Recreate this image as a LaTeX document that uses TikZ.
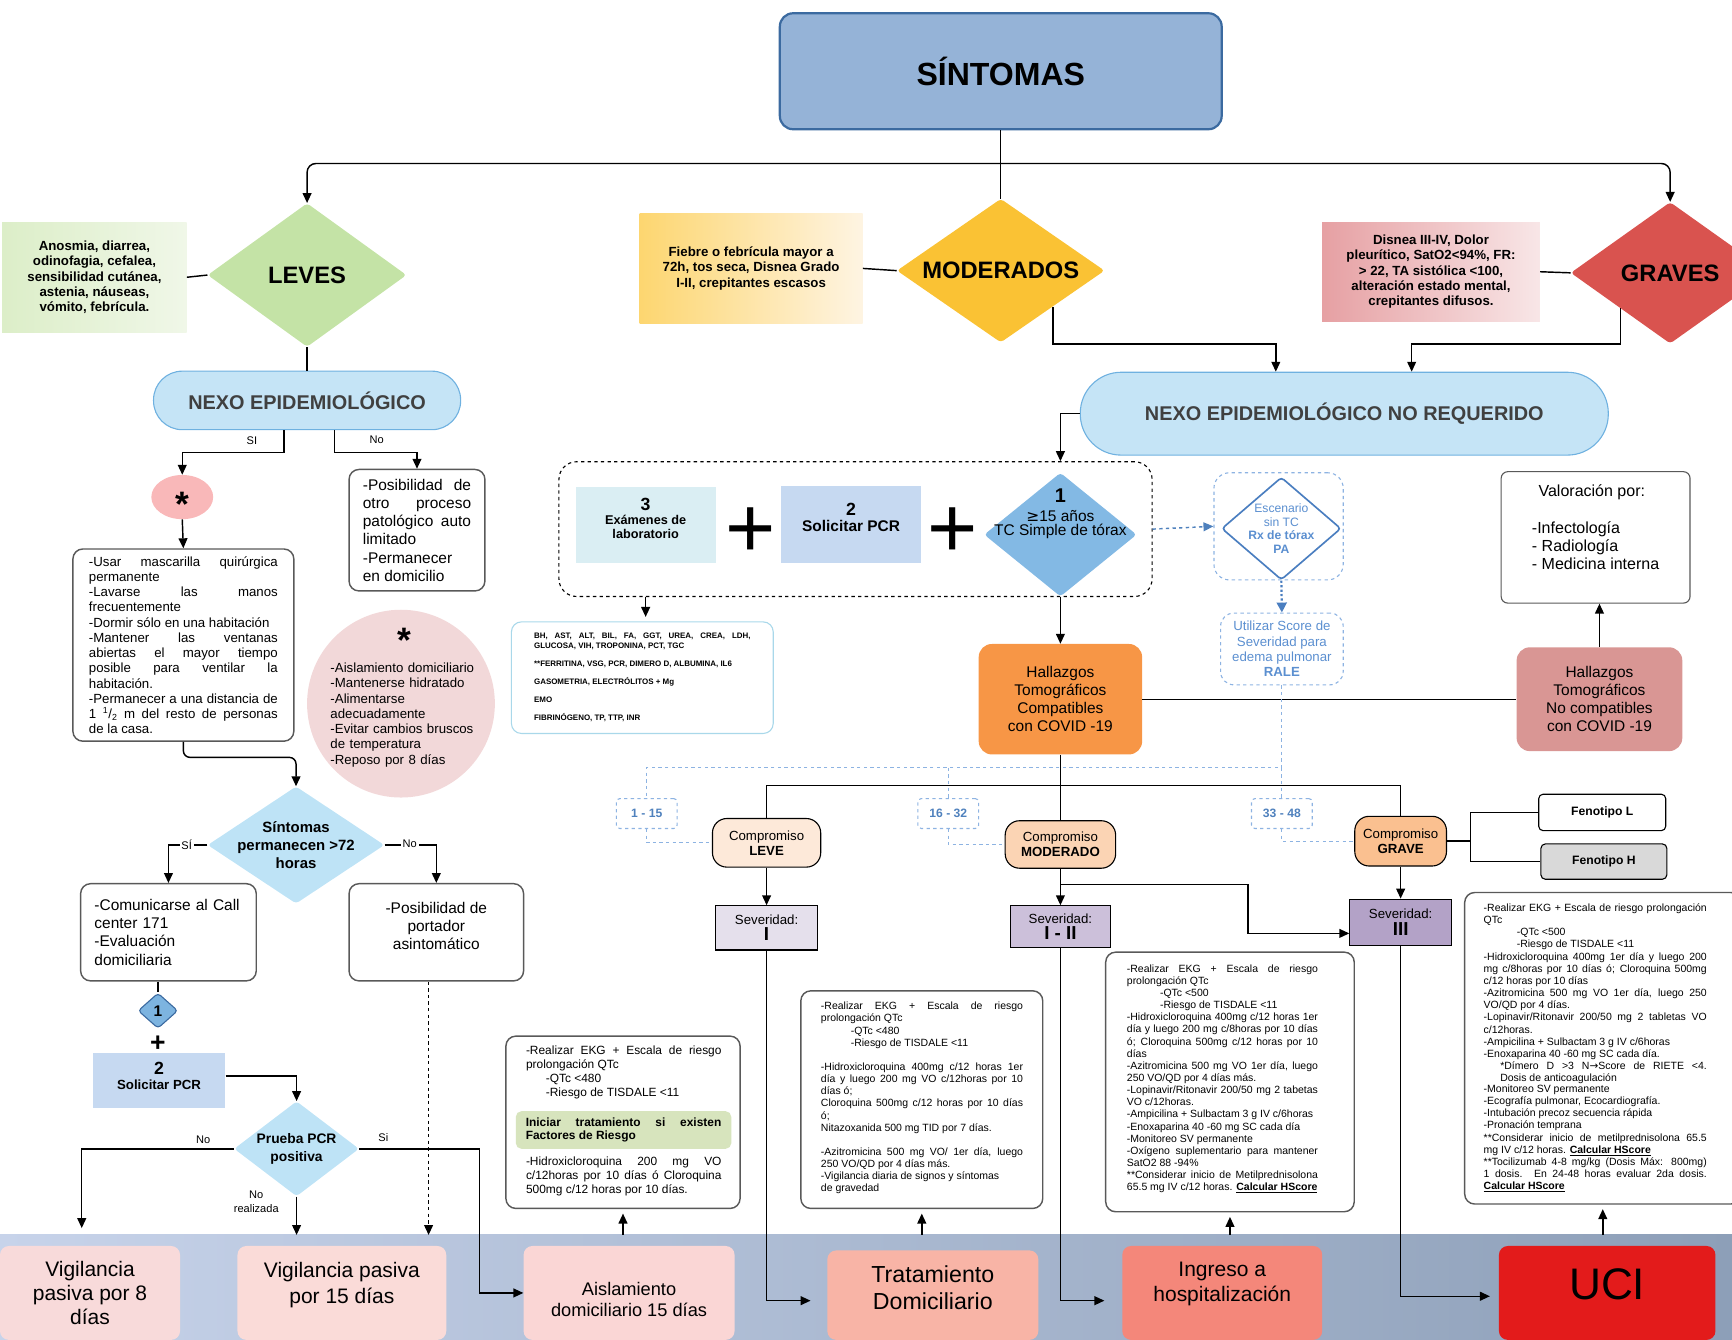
\documentclass[tikz,border=0pt]{standalone}
\usepackage{fontspec}
\setmainfont{Liberation Sans}[WordSpace={1,1,0}]
\newfontfamily\dejavu{DejaVu Sans}
\usetikzlibrary{shapes.geometric,arrows.meta,positioning}
\hyphenpenalty=10000
\exhyphenpenalty=10000
\tolerance=9999
\definecolor{sintfill}{HTML}{95B3D7}
\definecolor{sintline}{HTML}{3B6AA0}
\definecolor{levefill}{HTML}{C4E3A6}
\definecolor{modfill}{HTML}{FAC234}
\definecolor{gravfill}{HTML}{D9534F}
\definecolor{nexofill}{HTML}{C5E4F6}
\definecolor{nexoline}{HTML}{6FB1E0}
\definecolor{nexotext}{HTML}{404040}
\definecolor{astfill}{HTML}{F9B8B9}
\definecolor{circfill}{HTML}{F2D8D9}
\definecolor{permfill}{HTML}{BEE3F6}
\definecolor{diafill}{HTML}{7DB4E0}
\definecolor{dia1fill}{HTML}{83B9E4}
\definecolor{pcrfill}{HTML}{C6D9F1}
\definecolor{lab3fill}{HTML}{DAEEF3}
\definecolor{labline}{HTML}{A9D8EA}
\definecolor{hallcfill}{HTML}{F79646}
\definecolor{hallncfill}{HTML}{D99694}
\definecolor{clevefill}{HTML}{FDE9D9}
\definecolor{cmodfill}{HTML}{FBD4B4}
\definecolor{cgravfill}{HTML}{FAC090}
\definecolor{sevafill}{HTML}{E5E0EC}
\definecolor{sevbfill}{HTML}{CCC0DA}
\definecolor{sevcfill}{HTML}{B3A2C7}
\definecolor{fenhfill}{HTML}{D9D9D9}
\definecolor{levegfill}{HTML}{D7E4BD}
\definecolor{dashblue}{HTML}{8DB3E2}
\definecolor{txtblue}{HTML}{4F81BD}
\definecolor{diasline}{HTML}{4A7EC0}
\definecolor{txtbluel}{HTML}{5B8FD0}
\definecolor{vigafill}{HTML}{F8DADA}
\definecolor{vigbfill}{HTML}{FADBD8}
\definecolor{aislfill}{HTML}{FAD6D5}
\definecolor{tratfill}{HTML}{F8B4A6}
\definecolor{ingrfill}{HTML}{F4877A}
\definecolor{ucifill}{HTML}{E31B1B}
\definecolor{bandl}{HTML}{C7D3EA}
\definecolor{bandr}{HTML}{8D9FB8}
\definecolor{boxgray}{HTML}{595959}
\definecolor{greenl}{HTML}{DCEEC8}
\definecolor{greenr}{HTML}{F0F7E8}
\definecolor{yell}{HTML}{FDD670}
\definecolor{yelr}{HTML}{FEF4E2}
\definecolor{pinkl}{HTML}{E6A0A3}
\definecolor{pinkr}{HTML}{F8E6E7}

\begin{document}
\begin{tikzpicture}[x=1pt,y=-1pt,
  every node/.style={inner sep=0pt},
  con/.style={line width=1.3pt},
  arr/.style={con,-{Triangle[length=9pt,width=8pt]}},
  dia/.style={diamond,rounded corners=3pt},
  txtbox/.style={draw=boxgray,line width=1.3pt,rounded corners=9pt,fill=white},
  lbl/.style={font=\fontsize{10}{12}\selectfont},
  blab/.style={lbl,fill=white,inner sep=1.5pt},
  bdash/.style={dashed,draw=dashblue,line width=1pt},
  rangetag/.style={bdash,rounded corners=3pt,minimum width=55,minimum height=27,text=txtblue,font=\bfseries\fontsize{11}{13}\selectfont},
  compro/.style={draw=black,line width=1pt,rounded corners=13pt,font=\fontsize{12}{13.5}\selectfont,align=center},
  sev/.style={draw=black,line width=1pt,font=\fontsize{12}{15}\selectfont,align=center},
  endbox/.style={rounded corners=8pt,align=center},
  sidebox/.style={align=center,font=\bfseries\fontsize{12}{13.8}\selectfont},
  smalltxt/.style={anchor=north west,align=justify,font=\fontsize{9.5}{11}\selectfont}]
\useasboundingbox (0,0) rectangle (1568,1213);
\fill[left color=bandl,right color=bandr] (0,1118) rectangle (1568,1213);
\coordinate (bandtop) at (0,1118);

\node[draw=sintline,line width=2pt,fill=sintfill,rounded corners=12pt,minimum width=400,minimum height=105,font=\bfseries\fontsize{29}{34}\selectfont] (sint) at (906,64.5) {SÍNTOMAS};

\node[dia,fill=levefill,minimum width=180,minimum height=130] (leves) at (278,249) {};
\node[font=\bfseries\fontsize{21.5}{24}\selectfont] (levesT) at (leves) {LEVES};
\node[dia,fill=modfill,minimum width=188,minimum height=130] (moder) at (906,245) {};
\node[font=\bfseries\fontsize{21.5}{24}\selectfont] (moderT) at (moder) {MODERADOS};
\node[dia,fill=gravfill,minimum width=180,minimum height=128] (graves) at (1512,247) {};
\node[font=\bfseries\fontsize{21.5}{24}\selectfont] (gravesT) at (graves) {GRAVES};

\node[sidebox,left color=greenl,right color=greenr,minimum width=167,minimum height=100] (sLeve) at (85.5,251) {Anosmia, diarrea,\\odinofagia, cefalea,\\sensibilidad cutánea,\\astenia, náuseas,\\vómito, febrícula.};
\node[sidebox,left color=yell,right color=yelr,minimum width=202,minimum height=100] (sMod) at (680,243) {Fiebre o febrícula mayor a\\72h, tos seca, Disnea Grado\\I-II, crepitantes escasos};
\node[sidebox,left color=pinkl,right color=pinkr,minimum width=197,minimum height=90] (sGrav) at (1295.5,246) {Disnea III-IV, Dolor\\pleurítico, SatO2<94\%, FR:\\> 22, TA sistólica <100,\\alteración estado mental,\\crepitantes difusos.};
\draw[con] (sLeve.east) -- (leves.west);
\draw[con] (sMod.east) -- (moder.west);
\draw[con] (sGrav.east) -- (graves.west);

\coordinate (split) at ([yshift=-30]sint.south);
\draw[con] (sint.south) -- (moder.north);
\draw[arr,rounded corners=8pt] (split) -| (leves.north);
\draw[arr,rounded corners=8pt] (split) -| (graves.north);

\node[draw=nexoline,line width=1pt,fill=nexofill,rounded corners=26pt,minimum width=278,minimum height=53,text=nexotext,font=\bfseries\fontsize{18}{20}\selectfont] (nexo) at (278,362.5) {NEXO EPIDEMIOLÓGICO};
\draw[con] (leves.south) -- (nexo.north);

\node[ellipse,fill=astfill,minimum width=56,minimum height=40] (ast) at (165,450) {};
\node[font=\bfseries\fontsize{32}{32}\selectfont] (astT) at (165,457) {*};
\node[txtbox,minimum width=200,minimum height=174,text width=171,align=justify,font=\fontsize{12}{13.8}\selectfont] (box1) at (166,584) {-Usar mascarilla quirúrgica permanente\\-Lavarse las manos frecuentemente\\-Dormir sólo en una habitación\\-Mantener las ventanas abiertas el mayor tiempo posible para ventilar la habitación.\\-Permanecer a una distancia de 1 \textsuperscript{1}/\textsubscript{2} m del resto de personas de la casa.};
\draw[arr] (ast.south) -- (box1.north);
\node[txtbox,minimum width=123,minimum height=110,text width=98,align=justify,font=\fontsize{14}{16.5}\selectfont] (noBox) at (377.5,480) {-Posibilidad de otro proceso patológico auto limitado\\-Permanecer en domicilio};
\draw[arr] ([xshift=-21]nexo.south) -- ++(0,20) -| (ast.north);
\node[lbl] (siA) at (228,399) {SI};
\draw[arr] ([xshift=25]nexo.south) -- ++(0,20) -| (noBox.north);
\node[lbl] (noA) at (341,398) {No};

\node[circle,fill=circfill,minimum size=170] (circ) at (363,637) {};
\node[font=\bfseries\fontsize{32}{32}\selectfont] (circAst) at (366,580) {*};
\node[anchor=north west,text width=132,align=left,font=\fontsize{12}{13.8}\selectfont] (circT) at (299,600) {-Aislamiento domiciliario\\-Mantenerse hidratado\\-Alimentarse\\adecuadamente\\-Evitar cambios bruscos\\de temperatura\\-Reposo por 8 días};

\node[dia,fill=permfill,minimum width=160,minimum height=106] (perm) at (268,765) {};
\node[align=center,font=\bfseries\fontsize{13.5}{16.5}\selectfont] (permT) at (perm) {Síntomas\\permanecen >72\\horas};
\draw[arr,rounded corners=6pt] (box1.south) -- ++(0,14) -| (perm.north);
\node[txtbox,minimum width=159,minimum height=88,text width=134,align=left,font=\fontsize{14}{16.5}\selectfont] (comm) at (152.5,844) {-Comunicarse al Call\\center 171\\-Evaluación\\domiciliaria};
\node[txtbox,minimum width=158,minimum height=88,align=center,text depth=12pt,font=\fontsize{14}{16.5}\selectfont] (port) at (395,844) {-Posibilidad de\\portador\\asintomático};
\draw[arr] (perm.west) -| (comm.north);
\node[blab] (siB) at (169,765) {SÍ};
\draw[arr] (perm.east) -| (port.north);
\node[blab] (noB) at (371,764) {No};

\node[dia,draw=sintline,line width=1pt,fill=diafill,minimum width=36,minimum height=32] (d1) at (143,915) {};
\node[font=\bfseries\fontsize{14}{14}\selectfont] (d1T) at (d1) {1};
\draw[con] (d1.north |- comm.south) -- (d1.north);
\node[font=\bfseries\fontsize{24}{24}\selectfont] (plusL) at (143,945) {+};
\node[fill=pcrfill,minimum width=120,minimum height=50,align=center,text depth=8pt,font=\bfseries\fontsize{12}{13}\selectfont] (pcrL) at (144,978) {{\fontsize{16}{16}\selectfont 2}\\Solicitar PCR};

\node[dia,fill=permfill,minimum width=113,minimum height=86] (prueba) at (268.5,1040) {};
\node[align=center,font=\bfseries\fontsize{12.5}{16}\selectfont] (pruebaT) at (prueba) {Prueba PCR\\positiva};
\draw[arr] ([yshift=4]pcrL.east) -| (prueba.north);

\node[endbox,fill=vigafill,minimum width=163,minimum height=85,font=\fontsize{19}{22}\selectfont] (vig8) at (81.5,1170.5) {Vigilancia\\pasiva por 8\\días};
\node[endbox,fill=vigbfill,minimum width=189,minimum height=85,text depth=18pt,font=\fontsize{19}{24}\selectfont] (vig15) at (309.5,1170.5) {Vigilancia pasiva\\por 15 días};
\node[endbox,fill=aislfill,minimum width=191,minimum height=85,font=\fontsize{16.5}{19.5}\selectfont] (aisl) at (569.5,1170.5) {\rule{0pt}{24pt}Aislamiento\\domiciliario 15 días};
\node[endbox,fill=tratfill,minimum width=191,minimum height=81,text depth=14pt,font=\fontsize{21}{25}\selectfont] (trat) at (844.5,1172.5) {Tratamiento\\Domiciliario};
\node[endbox,fill=ingrfill,minimum width=181,minimum height=85,text depth=20pt,font=\fontsize{19}{23}\selectfont] (ingr) at (1106.5,1170.5) {Ingreso a\\hospitalización};
\node[endbox,fill=ucifill,minimum width=196,minimum height=85,text depth=16pt,font=\fontsize{40}{44}\selectfont] (uci) at (1455,1170.5) {UCI};

\draw[arr] (prueba.west) -| ([xshift=-7.5,yshift=16]vig8.north);
\node[lbl] (noC) at (184,1032) {No};
\draw[arr] (prueba.south) -- (prueba.south |- bandtop);
\node[lbl,align=center] (noD) at (232,1088) {No\\realizada};
\draw[arr] (prueba.east) -- ++(109,0) |- (aisl.west);
\node[lbl] (siC) at (347,1030) {Si};
\coordinate (portout) at ([xshift=-7]port.south);
\draw[arr,dashed] (portout) -- (portout |- bandtop);

\node[draw=nexoline,line width=1pt,fill=nexofill,rounded corners=37pt,minimum width=478,minimum height=75,text=nexotext,font=\bfseries\fontsize{18}{20}\selectfont] (nexoNR) at (1217,374.5) {NEXO EPIDEMIOLÓGICO NO REQUERIDO};
\draw[arr] (moder.south east) |- ([xshift=-62,yshift=25]nexoNR.north) -- ([xshift=-62]nexoNR.north);
\draw[arr] (graves.south west) |- ([xshift=61,yshift=25]nexoNR.north) -- ([xshift=61]nexoNR.north);

\node[draw,dashed,line width=1pt,rounded corners=16pt,minimum width=537,minimum height=122] (dbox) at (774.5,479) {};
\node[fill=lab3fill,minimum width=127,minimum height=69,align=center,text depth=13pt,font=\bfseries\fontsize{11.5}{12.5}\selectfont] (lab3) at (584.5,475.5) {{\fontsize{16}{16}\selectfont 3}\\Exámenes de\\laboratorio};
\node[font=\fontsize{78}{78}\selectfont] (plusA) at (680,482) {+};
\node[fill=pcrfill,minimum width=127,minimum height=70,align=center,text depth=13pt,font=\bfseries\fontsize{14}{15}\selectfont] (pcr2) at (770.5,475) {{\fontsize{16}{16}\selectfont 2}\\Solicitar PCR};
\node[font=\fontsize{78}{78}\selectfont] (plusB) at (862,482) {+};
\node[dia,fill=dia1fill,minimum width=138,minimum height=112] (dia1) at (960,484) {};
\node[align=center,font=\fontsize{14}{12.5}\selectfont] (dia1T) at (960,465) {{\bfseries\fontsize{18}{18}\selectfont 1}\\[5pt]{\dejavu ≥}15 años\\TC Simple de tórax};
\draw[arr] (nexoNR.west) -| (dbox.north -| dia1.north);

\node[bdash,rounded corners=14pt,minimum width=117,minimum height=97] (sinTC) at (1157.5,476.5) {};
\node[dia,draw=diasline,line width=1.5pt,fill=white,minimum width=108,minimum height=93] (diaS) at (1160,478.5) {};
\node[align=center,text=txtbluel,font=\fontsize{11}{12.3}\selectfont] (diaST) at (diaS) {Escenario\\sin TC\\\textbf{Rx de tórax}\\\textbf{PA}};
\draw[dashed,line width=1.3pt,color=txtblue,-{Triangle[length=9pt,width=8pt]}] (dbox.east) -- (sinTC.west);
\node[bdash,rounded corners=12pt,minimum width=111,minimum height=65,align=center,text=txtbluel,font=\fontsize{12}{13.8}\selectfont] (rale) at (1160.5,587.5) {Utilizar Score de\\Severidad para\\edema pulmonar\\\textbf{RALE}};
\draw[dotted,line width=2pt,color=diasline,-{Triangle[length=9pt,width=9pt]}] (diaS.south) -- (rale.north);

\node[draw=labline,line width=1pt,rounded corners=9pt,minimum width=237,minimum height=101,text width=196,align=justify,font=\bfseries\fontsize{7.2}{8.5}\selectfont] (lab) at (581.5,613.5) {BH, AST, ALT, BIL, FA, GGT, UREA, CREA, LDH, GLUCOSA, VIH, TROPONINA, PCT, TGC\\[8pt]**FERRITINA, VSG, PCR, DIMERO D, ALBUMINA, IL6\\[8pt]GASOMETRIA, ELECTRÓLITOS + Mg\\[8pt]EMO\\[8pt]FIBRINÓGENO, TP, TTP, INR};
\draw[arr,shorten >=4pt] (lab3 |- dbox.south) -- (lab3 |- lab.north);

\node[fill=hallcfill,rounded corners=12pt,minimum width=148,minimum height=100,align=center,font=\fontsize{14}{16.3}\selectfont] (hallC) at (960,633) {Hallazgos\\Tomográficos\\Compatibles\\con COVID -19};
\draw[arr] (dia1.south) -- (hallC.north);
\node[fill=hallncfill,rounded corners=12pt,minimum width=150,minimum height=94,align=center,font=\fontsize{14}{16.3}\selectfont] (hallNC) at (1448,633) {Hallazgos\\Tomográficos\\No compatibles\\con COVID -19};
\draw[con] (hallC.east) -- (hallNC.west);
\node[draw=boxgray,line width=1pt,rounded corners=6pt,fill=white,minimum width=171,minimum height=119,align=left,text depth=18pt,font=\fontsize{14.5}{16.5}\selectfont] (valor) at (1444.5,486.5) {\hspace*{6pt}Valoración por:\\[16.5pt]-Infectología\\- Radiología\\- Medicina interna};
\draw[arr] (hallNC.north) -- (hallNC.north |- valor.south);

\coordinate (tagrow) at (0,695);
\node[rangetag] (t1) at (585.5,736.5) {1 - 15};
\node[rangetag] (t2) at (858.5,736.5) {16 - 32};
\node[rangetag] (t3) at (1160.5,736.5) {33 - 48};
\draw[bdash] (rale.south) -- (rale.south |- tagrow) -| (t1.north);
\draw[bdash] (t2.north |- tagrow) -- (t2.north);
\draw[bdash] (rale.south |- tagrow) -- (t3.north);

\coordinate (hrow) at (0,711);
\node[compro,fill=clevefill,minimum width=98,minimum height=44] (cLeve) at (694,763) {Compromiso\\\textbf{LEVE}};
\node[compro,fill=cmodfill,minimum width=100,minimum height=43] (cMod) at (960,764.5) {Compromiso\\\textbf{MODERADO}};
\node[compro,fill=cgravfill,minimum width=83,minimum height=45] (cGrave) at (1268,761.5) {Compromiso\\\textbf{GRAVE}};
\draw[con] (hallC.south) -- (cMod.north);
\draw[con] (cLeve.north) -- (cLeve.north |- hrow) -- (cGrave.north |- hrow) -- (cGrave.north);
\draw[bdash] (t1.south) |- (cLeve.west);
\draw[bdash] (t2.south) |- (cMod.west);
\draw[bdash] (t3.south) |- (cGrave.west);

\node[draw=black,line width=1pt,rounded corners=4pt,fill=white,minimum width=115,minimum height=33,font=\bfseries\fontsize{11}{13}\selectfont] (fenL) at (1450.5,735.5) {Fenotipo L};
\node[draw=black,line width=1pt,rounded corners=4pt,fill=fenhfill,minimum width=114,minimum height=32,font=\bfseries\fontsize{11}{13}\selectfont] (fenH) at (1452,780) {Fenotipo H};
\draw[con] (cGrave.east) -- ++(21,0) coordinate (fj);
\draw[con] (fenL.west) -| (fj) |- (fenH.west);

\node[sev,fill=sevafill,minimum width=92,minimum height=40] (sev1) at (694,840) {Severidad:\\{\bfseries\fontsize{17}{17}\selectfont I}};
\node[sev,fill=sevbfill,minimum width=90,minimum height=38] (sev2) at (960,839) {Severidad:\\{\bfseries\fontsize{17}{17}\selectfont I - II}};
\node[sev,fill=sevcfill,minimum width=92,minimum height=42] (sev3) at (1268,835) {Severidad:\\{\bfseries\fontsize{17}{17}\selectfont III}};
\draw[arr] (cLeve.south) -- (sev1.north);
\draw[arr] (cMod.south) -- (sev2.north);
\draw[arr] (cGrave.south) -- (sev3.north);
\draw[arr] ([yshift=-14]cMod.south) -- ++(170,0) |- ([yshift=-10]sev3.west);
\draw[arr,shorten >=15pt] (sev1.south) |- ([yshift=-5]trat.west);
\draw[arr,shorten >=16pt] (sev2.south) |- ([yshift=-7]ingr.west);
\draw[arr,shorten >=8pt] (sev3.south) |- ([yshift=-3]uci.west);

\node[txtbox,minimum width=212,minimum height=156] (txtLeve) at (564,1016) {};
\node[anchor=north west,text width=177,align=justify,font=\fontsize{10.8}{12.5}\selectfont] (leveA) at (476,947) {-Realizar EKG + Escala de riesgo prolongación QTc\\\hspace*{18pt}-QTc <480\\\hspace*{18pt}-Riesgo de TISDALE <11};
\node[fill=levegfill,rounded corners=5pt,minimum width=195,minimum height=34,text width=177,align=justify,font=\bfseries\fontsize{10.8}{12.5}\selectfont] (leveG) at (564.5,1023) {Iniciar tratamiento si existen Factores de Riesgo};
\node[anchor=north west,text width=177,align=justify,font=\fontsize{10.8}{12.5}\selectfont] (leveB) at (476,1047) {-Hidroxicloroquina 200 mg VO c/12horas por 10 días ó Cloroquina 500mg c/12 horas por 10 días.};
\draw[arr] (txtLeve.south |- bandtop) -- ([yshift=-4]txtLeve.south);

\node[txtbox,minimum width=219,minimum height=197] (txtMod) at (834.5,995.5) {};
\node[smalltxt,text width=183] (modT) at (743,907) {-Realizar EKG + Escala de riesgo prolongación QTc\\\hspace*{27pt}-QTc <480\\\hspace*{27pt}-Riesgo de TISDALE <11\\[11pt]-Hidroxicloroquina 400mg c/12 horas 1er día y luego 200 mg VO c/12horas por 10 días ó;\\Cloroquina 500mg c/12 horas por 10 días ó;\\Nitazoxanida 500 mg TID por 7 días.\\[11pt]-Azitromicina 500 mg VO/ 1er día, luego 250 VO/QD por 4 días más.\\-Vigilancia diaria de signos y síntomas\\de gravedad};
\draw[arr] (txtMod.south |- bandtop) -- ([yshift=-4]txtMod.south);

\node[txtbox,minimum width=225,minimum height=235] (txtIng) at (1113.5,979.5) {};
\node[smalltxt,text width=173] (ingT) at (1020,873) {-Realizar EKG + Escala de riesgo prolongación QTc\\\hspace*{30pt}-QTc <500\\\hspace*{30pt}-Riesgo de TISDALE <11\\-Hidroxicloroquina 400mg c/12 horas 1er día y luego 200 mg c/8horas por 10 días ó; Cloroquina 500mg c/12 horas por 10 días\\-Azitromicina 500 mg VO 1er día, luego 250 VO/QD por 4 días más.\\-Lopinavir/Ritonavir 200/50 mg 2 tabetas VO c/12horas.\\-Ampicilina + Sulbactam 3 g IV c/6horas\\-Enoxaparina 40 -60 mg SC cada día\\-Monitoreo SV permanente\\-Oxígeno suplementario para mantener SatO2 88 -94\%\\{}**Considerar inicio de Metilprednisolona 65.5 mg IV c/12 horas. \underline{\textbf{Calcular HScore}}};
\draw[arr] (txtIng.south |- bandtop) -- ([yshift=-4]txtIng.south);

\node[txtbox,minimum width=250,minimum height=282] (txtUci) at (1451,949) {};
\node[smalltxt,text width=202] (uciT) at (1343,818) {-Realizar EKG + Escala de riesgo prolongación QTc\\\hspace*{30pt}-QTc <500\\\hspace*{30pt}-Riesgo de TISDALE <11\\-Hidroxicloroquina 400mg 1er día y luego 200 mg c/8horas por 10 días ó; Cloroquina 500mg c/12 horas por 10 días\\-Azitromicina 500 mg VO 1er día, luego 250 VO/QD por 4 días.\\-Lopinavir/Ritonavir 200/50 mg 2 tabletas VO c/12horas.\\-Ampicilina + Sulbactam 3 g IV c/6horas\\-Enoxaparina 40 -60 mg SC cada día.\\\hspace*{15pt}\parbox[t]{187pt}{*Dímero D >3 N{\dejavu →}Score de RIETE <4. Dosis de anticoagulación}\\-Monitoreo SV permanente\\-Ecografía pulmonar, Ecocardiografía.\\-Intubación precoz secuencia rápida\\-Pronación temprana\\{}**Considerar inicio de metilprednisolona 65.5 mg IV c/12 horas. \underline{\textbf{Calcular HScore}}\\{}**Tocilizumab 4-8 mg/kg (Dosis Máx: 800mg) 1 dosis. En 24-48 horas evaluar 2da dosis. \underline{\textbf{Calcular HScore}}};
\draw[arr] (txtUci.south |- bandtop) -- ([yshift=-4]txtUci.south);
\end{tikzpicture}
\end{document}
